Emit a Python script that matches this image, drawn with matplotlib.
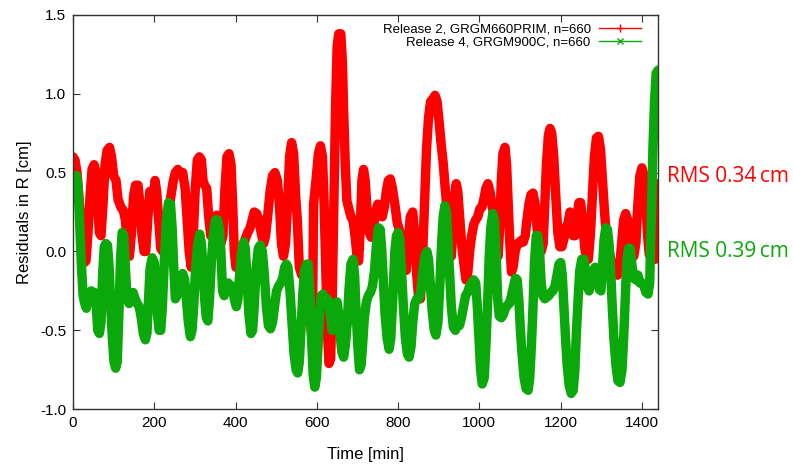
import matplotlib
matplotlib.use("Agg")
import matplotlib.pyplot as plt
from matplotlib.lines import Line2D

plt.rcParams['font.family'] = ['Liberation Sans', 'DejaVu Sans']
plt.rcParams['axes.unicode_minus'] = False

# Release 2, GRGM660PRIM residuals (time in min, residual in cm)
red_t = [0, 5, 10, 16, 22, 28, 32, 37, 42, 47, 52, 57, 61, 65, 69, 74, 79, 84, 90, 95,
         100, 106, 111, 118, 124, 129, 134, 139, 144, 149, 154, 160, 165, 170, 175, 179, 184,
         189, 193, 197, 202, 206, 211, 216, 221, 227, 234, 241, 247, 252, 258, 264, 270, 276,
         281, 286, 291, 296, 301, 306, 311, 316, 320, 324, 329, 334, 339, 344, 349, 354, 359,
         364, 369, 374, 379, 384, 389, 393, 397, 401, 405, 411, 418, 424, 430, 436, 441, 446,
         452, 458, 463, 469, 474, 479, 485, 491, 497, 503, 508, 513, 518, 523, 528, 533, 538,
         543, 548, 552, 557, 563, 572, 580, 586, 589, 592, 598, 604, 609, 614, 618, 622, 626,
         630, 634, 638, 642, 646, 650, 654, 659, 663, 666, 670, 674, 679, 684, 689, 694, 699,
         703, 707, 711, 715, 719, 724, 729, 734, 739, 745, 750, 755, 761, 766, 771, 776, 781,
         786, 792, 798, 804, 810, 815, 820, 825, 830, 836, 841, 846, 851, 855, 860, 865, 870,
         875, 880, 886, 891, 896, 901, 906, 911, 916, 921, 926, 931, 935, 939, 943, 947, 952,
         957, 962, 967, 971, 976, 981, 986, 991, 996, 1001, 1006, 1011, 1016, 1021, 1026, 1031,
         1036, 1041, 1046, 1050, 1054, 1058, 1063, 1067, 1071, 1075, 1079, 1083, 1088, 1093,
         1098, 1103, 1108, 1113, 1117, 1122, 1127, 1132, 1137, 1142, 1147, 1152, 1157, 1161,
         1165, 1170, 1174, 1178, 1183, 1188, 1193, 1198, 1203, 1208, 1213, 1218, 1223, 1227,
         1231, 1235, 1240, 1245, 1249, 1254, 1259, 1264, 1268, 1273, 1278, 1283, 1288, 1293,
         1298, 1303, 1308, 1313, 1318, 1323, 1328, 1334, 1340, 1345, 1350, 1355, 1360, 1365,
         1370, 1375, 1380, 1385, 1390, 1395, 1400, 1405, 1410, 1414, 1418, 1423, 1428, 1432,
         1436, 1440]
red_v = [0.60, 0.58, 0.5, 0.3, 0.08, -0.07, -0.06, 0.12, 0.35, 0.52, 0.55, 0.5, 0.3, 0.12,
         0.1, 0.3, 0.55, 0.64, 0.66, 0.6, 0.48, 0.45, 0.33, 0.28, 0.26, 0.2, 0.05, -0.03, 0.12,
         0.35, 0.42, 0.42, 0.3, 0.1, 0.0, 0.0, 0.2, 0.38, 0.36, 0.32, 0.45, 0.38, 0.2, 0.02, 0.0,
         0.12, 0.22, 0.35, 0.45, 0.5, 0.52, 0.5, 0.5, 0.4, 0.2, 0.0, -0.1, 0.1, 0.4, 0.58, 0.6,
         0.58, 0.45, 0.42, 0.4, 0.22, 0.1, 0.12, 0.2, 0.23, 0.15, 0.05, 0.1, 0.4, 0.6, 0.62,
         0.55, 0.3, 0.0, -0.1, -0.1, -0.05, 0.0, 0.08, 0.12, 0.15, 0.2, 0.25, 0.24, 0.2, 0.12,
         0.05, 0.1, 0.22, 0.38, 0.48, 0.5, 0.45, 0.3, 0.05, -0.03, 0.05, 0.3, 0.6, 0.69, 0.62,
         0.35, 0.2, -0.1, -0.15, -0.15, -0.2, -0.5, -0.58, 0.3, 0.45, 0.62, 0.67, 0.6, 0.3,
         -0.1, -0.5, -0.71, -0.68, -0.3, 0.3, 0.9, 1.3, 1.38, 1.38, 1.2, 0.9, 0.55, 0.32, 0.27,
         0.22, 0.2, 0.1, -0.03, -0.06, 0.15, 0.45, 0.52, 0.45, 0.25, 0.12, 0.09, 0.15, 0.25,
         0.3, 0.25, 0.22, 0.28, 0.38, 0.45, 0.46, 0.4, 0.3, 0.18, 0.13, 0.05, -0.08, -0.12,
         0.05, 0.22, 0.25, 0.1, -0.15, -0.3, -0.3, -0.05, 0.3, 0.65, 0.85, 0.95, 0.97, 0.99,
         0.95, 0.82, 0.68, 0.56, 0.4, 0.25, 0.08, -0.03, 0.15, 0.35, 0.43, 0.38, 0.2, 0.03,
         -0.08, -0.18, -0.15, 0.0, 0.1, 0.17, 0.2, 0.22, 0.27, 0.28, 0.33, 0.4, 0.43, 0.38, 0.3,
         0.22, 0.08, -0.03, 0.15, 0.45, 0.62, 0.66, 0.55, 0.3, 0.05, -0.13, -0.1, 0.0, 0.05,
         0.05, 0.07, 0.06, 0.1, 0.2, 0.3, 0.36, 0.37, 0.3, 0.15, 0.03, 0.0, 0.05, 0.3, 0.55,
         0.74, 0.78, 0.75, 0.6, 0.35, 0.12, 0.03, 0.03, 0.08, 0.15, 0.18, 0.25, 0.22, 0.1, 0.1,
         0.22, 0.31, 0.31, 0.2, 0.03, -0.05, -0.05, 0.1, 0.35, 0.6, 0.72, 0.73, 0.65, 0.45, 0.25,
         0.08, 0.03, -0.05, -0.08, -0.1, -0.15, -0.1, 0.05, 0.2, 0.24, 0.2, 0.08, 0.0, -0.03,
         0.05, 0.3, 0.48, 0.53, 0.48, 0.3, 0.1, -0.02, 0.0, -0.03, -0.05, 0.2, 0.43]

# Release 4, GRGM900C residuals
green_t = [0, 4, 9, 13, 17, 21, 25, 29, 33, 37, 41, 45, 49, 53, 57, 61, 65, 69, 73, 77, 81,
           85, 89, 93, 97, 101, 105, 109, 113, 117, 121, 125, 129, 133, 138, 143, 148, 153, 158,
           163, 168, 173, 178, 182, 186, 190, 195, 200, 204, 208, 212, 216, 220, 225, 230, 235,
           240, 244, 248, 252, 256, 260, 265, 270, 275, 279, 284, 289, 293, 297, 302, 307, 312,
           316, 320, 324, 328, 332, 336, 341, 346, 351, 356, 360, 364, 368, 372, 377, 382, 387,
           392, 397, 402, 406, 410, 415, 420, 424, 428, 433, 438, 442, 446, 451, 456, 461, 466,
           471, 476, 481, 486, 491, 496, 501, 506, 511, 516, 521, 525, 529, 534, 539, 544, 549,
           553, 557, 561, 566, 570, 575, 579, 583, 587, 591, 595, 599, 603, 607, 611, 615, 620,
           625, 630, 634, 638, 642, 646, 650, 654, 658, 662, 666, 670, 675, 679, 684, 689, 693,
           697, 701, 705, 709, 713, 717, 722, 727, 732, 737, 742, 747, 752, 756, 760, 764, 768,
           773, 778, 782, 787, 792, 796, 800, 804, 808, 813, 818, 823, 827, 832, 836, 841, 846,
           851, 856, 861, 866, 871, 875, 879, 884, 889, 893, 898, 903, 907, 911, 915, 919, 923,
           927, 931, 936, 941, 946, 951, 956, 961, 966, 971, 976, 981, 986, 991, 995, 999, 1003,
           1007, 1012, 1016, 1020, 1024, 1028, 1033, 1037, 1041, 1045, 1049, 1054, 1059, 1064,
           1069, 1074, 1079, 1084, 1089, 1093, 1097, 1101, 1105, 1110, 1115, 1120, 1124, 1128,
           1132, 1136, 1140, 1144, 1148, 1152, 1156, 1161, 1166, 1171, 1176, 1181, 1186, 1191,
           1196, 1200, 1204, 1208, 1212, 1216, 1221, 1226, 1231, 1235, 1239, 1243, 1247, 1252,
           1257, 1261, 1265, 1270, 1275, 1280, 1285, 1290, 1295, 1299, 1303, 1307, 1311, 1315,
           1319, 1323, 1327, 1331, 1336, 1341, 1346, 1351, 1355, 1359, 1363, 1367, 1371, 1375,
           1380, 1385, 1390, 1395, 1400, 1405, 1410, 1415, 1419, 1423, 1427, 1431, 1435, 1440]
green_v = [0.41, 0.48, 0.48, 0.4, 0.15, -0.1, -0.28, -0.33, -0.36, -0.3, -0.27, -0.25, -0.3,
           -0.26, -0.33, -0.5, -0.52, -0.45, -0.15, 0.03, 0.05, 0.04, -0.1, -0.35, -0.55, -0.7,
           -0.74, -0.7, -0.4, -0.05, 0.12, 0.1, -0.1, -0.3, -0.33, -0.3, -0.26, -0.3, -0.33,
           -0.35, -0.42, -0.52, -0.56, -0.52, -0.3, -0.1, -0.04, -0.07, -0.2, -0.4, -0.5, -0.5,
           -0.35, -0.05, 0.2, 0.31, 0.3, 0.15, -0.1, -0.3, -0.28, -0.22, -0.18, -0.14, -0.18,
           -0.3, -0.45, -0.54, -0.5, -0.35, -0.1, 0.05, 0.11, 0.05, -0.1, -0.3, -0.42, -0.44,
           -0.3, -0.05, 0.12, 0.2, 0.2, 0.15, 0.0, -0.25, -0.28, -0.22, -0.2, -0.25, -0.22, -0.3,
           -0.35, -0.3, -0.15, 0.0, 0.06, 0.02, -0.15, -0.4, -0.52, -0.5, -0.35, -0.1, 0.02,
           0.04, 0.0, -0.15, -0.35, -0.47, -0.49, -0.45, -0.35, -0.25, -0.22, -0.2, -0.17, -0.1,
           -0.08, -0.1, -0.25, -0.45, -0.65, -0.75, -0.77, -0.7, -0.5, -0.25, -0.12, -0.08,
           -0.08, -0.25, -0.55, -0.78, -0.86, -0.8, -0.6, -0.4, -0.28, -0.27, -0.3, -0.3, -0.32,
           -0.42, -0.5, -0.45, -0.33, -0.32, -0.4, -0.55, -0.64, -0.67, -0.6, -0.45, -0.25,
           -0.08, -0.05, -0.15, -0.4, -0.6, -0.75, -0.72, -0.58, -0.42, -0.32, -0.28, -0.26,
           -0.22, -0.12, 0.05, 0.15, 0.14, 0.0, -0.2, -0.4, -0.55, -0.62, -0.55, -0.3, 0.0, 0.1,
           0.12, 0.08, -0.1, -0.35, -0.55, -0.65, -0.67, -0.6, -0.45, -0.33, -0.3, -0.3, -0.25,
           -0.12, -0.03, 0.0, -0.05, -0.2, -0.38, -0.5, -0.53, -0.45, -0.2, 0.05, 0.22, 0.29,
           0.25, 0.05, -0.15, -0.35, -0.48, -0.5, -0.46, -0.47, -0.42, -0.35, -0.28, -0.26,
           -0.22, -0.2, -0.18, -0.2, -0.35, -0.55, -0.75, -0.84, -0.8, -0.6, -0.35, -0.05, 0.15,
           0.24, 0.2, 0.0, -0.3, -0.41, -0.42, -0.4, -0.36, -0.34, -0.33, -0.28, -0.22, -0.17,
           -0.18, -0.3, -0.5, -0.65, -0.8, -0.87, -0.88, -0.8, -0.6, -0.35, -0.05, 0.1, 0.1, 0.0,
           -0.2, -0.28, -0.3, -0.29, -0.28, -0.26, -0.25, -0.22, -0.15, -0.08, -0.07, -0.15,
           -0.35, -0.55, -0.72, -0.85, -0.9, -0.88, -0.75, -0.5, -0.3, -0.12, -0.05, -0.05,
           -0.12, -0.22, -0.25, -0.18, -0.12, -0.1, -0.15, -0.24, -0.25, -0.1, 0.08, 0.15, 0.14,
           0.05, -0.12, -0.35, -0.55, -0.72, -0.82, -0.83, -0.75, -0.55, -0.3, -0.05, 0.02,
           0.02, -0.08, -0.17, -0.18, -0.15, -0.2, -0.2, -0.22, -0.26, -0.27, -0.2, 0.2, 0.65,
           0.95, 1.13, 1.15]

red_label = "Release 2, GRGM660PRIM, n=660"
green_label = "Release 4, GRGM900C, n=660"
red_rms = "RMS 0.34\u2009cm"
green_rms = "RMS 0.39\u2009cm"

RED = "#ff0000"
GREEN = "#0aa80a"

fig = plt.figure(figsize=(7.93, 4.65), dpi=100)
ax = fig.add_axes([0.092, 0.12, 0.738, 0.848])

# thick lines stand in for the dense +/x markers of the original
ax.plot(red_t, red_v, color=RED, lw=6.8, solid_joinstyle='round', solid_capstyle='round')
ax.plot(green_t, green_v, color=GREEN, lw=6.8, solid_joinstyle='round', solid_capstyle='round')

ax.set_xlim(0, 1440)
ax.set_ylim(-1.0, 1.5)
ax.set_xticks([0, 200, 400, 600, 800, 1000, 1200, 1400])
ax.set_yticks([-1.0, -0.5, 0.0, 0.5, 1.0, 1.5])
ax.set_yticklabels(["%.1f" % v for v in [-1.0, -0.5, 0.0, 0.5, 1.0, 1.5]])
ax.tick_params(direction='in', top=True, right=True, length=5, width=0.8,
               labelsize=11, pad=5, color='#333333')
for s in ax.spines.values():
    s.set_color('#333333')
    s.set_linewidth(1.0)

ax.set_xlabel("Time [min]", fontsize=12, labelpad=12)
ax.set_ylabel("Residuals in R [cm]", fontsize=12, labelpad=6)

handles = [Line2D([], [], color=RED, lw=1, marker='+', markersize=6),
           Line2D([], [], color=GREEN, lw=1, marker='x', markersize=5)]
ax.legend(handles, [red_label, green_label], loc='upper right', frameon=False,
          markerfirst=False, fontsize=9.5, handlelength=3.2, handletextpad=0.6,
          labelspacing=0.05, borderaxespad=0.25, bbox_to_anchor=(0.985, 1.0))

fig.text(0.841, 0.621, red_rms, color=RED, fontsize=15, va='center',
         family=['Open Sans', 'DejaVu Sans'])
fig.text(0.841, 0.46, green_rms, color=GREEN, fontsize=15, va='center',
         family=['Open Sans', 'DejaVu Sans'])

fig.savefig("out.png", dpi=100)
